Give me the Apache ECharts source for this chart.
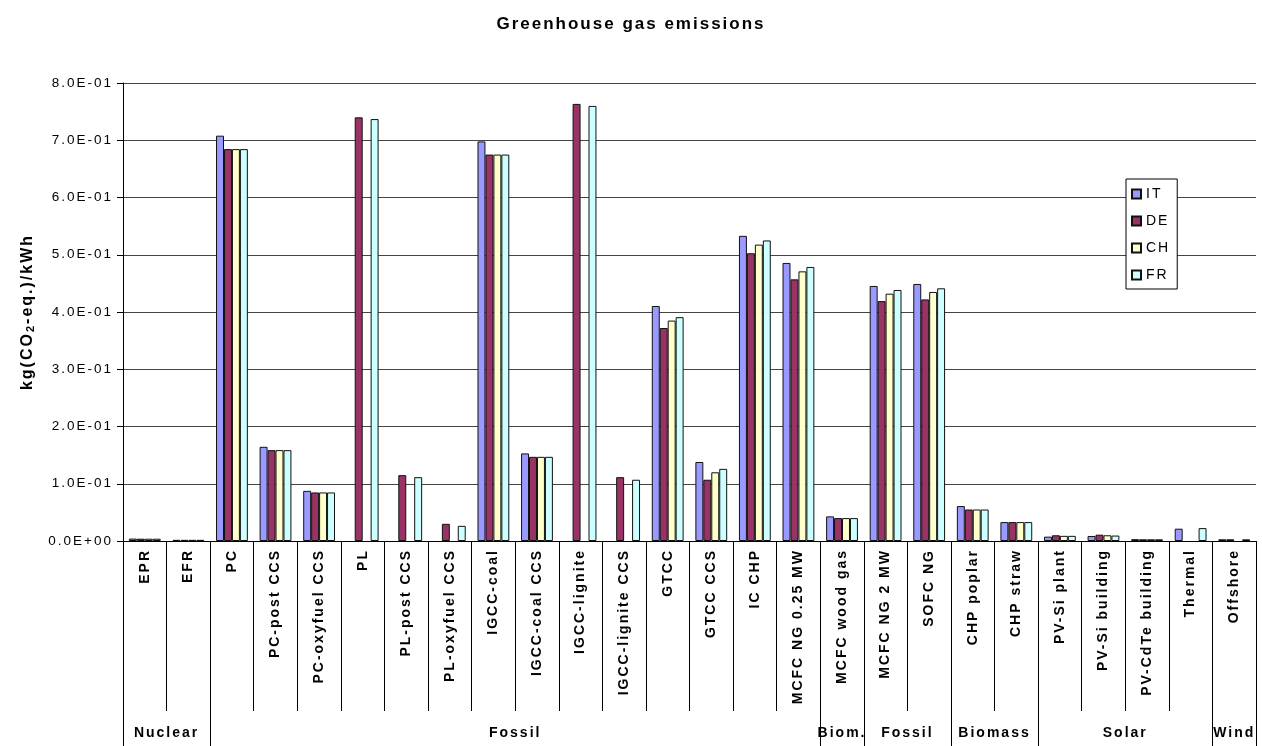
<!DOCTYPE html>
<html>
<head>
<meta charset="utf-8">
<title>Greenhouse gas emissions</title>
<script src="https://cdn.jsdelivr.net/npm/echarts@6/dist/echarts.min.js"></script>
<style>
  html, body { margin: 0; padding: 0; background: #fff; }
  #chart { width: 1262px; height: 746px; }
</style>
</head>
<body>
<div id="chart"></div>
<script>
// Technologies on the category axis
const categories = [
  'EPR', 'EFR', 'PC', 'PC-post CCS', 'PC-oxyfuel CCS', 'PL', 'PL-post CCS',
  'PL-oxyfuel CCS', 'IGCC-coal', 'IGCC-coal CCS', 'IGCC-lignite', 'IGCC-lignite CCS',
  'GTCC', 'GTCC CCS', 'IC CHP', 'MCFC NG 0.25 MW', 'MCFC wood gas', 'MCFC NG 2 MW',
  'SOFC NG', 'CHP poplar', 'CHP straw', 'PV-Si plant', 'PV-Si building',
  'PV-CdTe building', 'Thermal', 'Offshore'
];

// Source groups shown under the technology names (consecutive runs)
const groupNames = ['Nuclear', 'Fossil', 'Biom.', 'Fossil', 'Biomass', 'Solar', 'Wind'];
const groupSizes = [2, 14, 1, 2, 2, 4, 1];

// kg(CO2-eq.)/kWh per country
const seriesNames = ['IT', 'DE', 'CH', 'FR'];
const valuesIT = [0.0042, 0.002, 0.708, 0.1645, 0.0876, null, null, null, 0.698, 0.153, null, null,
  0.4105, 0.138, 0.533, 0.4857, 0.043, 0.4455, 0.449, 0.061, 0.033, 0.0076, 0.0088, 0.0032, 0.0215, 0.003];
const valuesDE = [0.004, 0.002, 0.6845, 0.1587, 0.0848, 0.740, 0.115, 0.030, 0.675, 0.147, 0.7635, 0.1115,
  0.372, 0.107, 0.5026, 0.457, 0.040, 0.419, 0.422, 0.055, 0.033, 0.010, 0.011, 0.003, null, 0.003];
const valuesCH = [0.004, 0.002, 0.6845, 0.1587, 0.0848, null, null, null, 0.675, 0.147, null, null,
  0.385, 0.120, 0.5177, 0.471, 0.040, 0.432, 0.435, 0.055, 0.033, 0.009, 0.010, 0.003, null, null];
const valuesFR = [0.004, 0.002, 0.6845, 0.1587, 0.0848, 0.737, 0.1115, 0.0265, 0.675, 0.147, 0.760, 0.107,
  0.391, 0.126, 0.525, 0.4787, 0.040, 0.4385, 0.4414, 0.055, 0.033, 0.009, 0.0095, 0.003, 0.0225, 0.003];

// Value axis tick labels, from 0 upwards in steps of 0.1
const yTickLabels = ['0.0E+00', '1.0E-01', '2.0E-01', '3.0E-01', '4.0E-01',
  '5.0E-01', '6.0E-01', '7.0E-01', '8.0E-01'];

// Slightly widened glyph spacing for every canvas text run
(function () {
  const P = CanvasRenderingContext2D.prototype;
  const fill = P.fillText, measure = P.measureText;
  const SPACING = '2px';
  P.fillText = function () { this.letterSpacing = SPACING; return fill.apply(this, arguments); };
  P.measureText = function () { this.letterSpacing = SPACING; return measure.apply(this, arguments); };
})();

const FONT = 'Arial';
const colors = ['#9999FF', '#993366', '#FFFFCC', '#CCFFFF'];
const allValues = [valuesIT, valuesDE, valuesCH, valuesFR];

const chart = echarts.init(document.getElementById('chart'), null, { renderer: 'canvas' });

const option = {
  animation: false,
  backgroundColor: '#fff',
  textStyle: { fontFamily: FONT, color: '#000' },
  title: {
    text: 'Greenhouse gas emissions',
    left: 'center',
    top: 10,
    textStyle: { fontFamily: FONT, fontSize: 17, fontWeight: 'bold', color: '#000' }
  },
  legend: {
    data: seriesNames,
    orient: 'vertical',
    left: 1126,
    top: 179,
    itemWidth: 9,
    itemHeight: 9,
    itemGap: 11,
    padding: [7, 7, 6, 5],
    backgroundColor: '#fff',
    borderColor: '#000',
    borderWidth: 1,
    borderRadius: 0,
    icon: 'rect',
    textStyle: { fontFamily: FONT, fontSize: 14, color: '#000', lineHeight: 15 }
  },
  grid: { left: 123, right: 6, top: 83, bottom: 205, containLabel: false },
  xAxis: {
    type: 'category',
    data: categories,
    axisLine: { show: true, lineStyle: { color: '#000', width: 1 } },
    axisTick: { show: true, interval: 0, length: 170, lineStyle: { color: '#000', width: 1 } },
    axisLabel: {
      interval: 0, rotate: 90, margin: 8,
      fontFamily: FONT, fontSize: 14, fontWeight: 'bold', color: '#000'
    },
    splitLine: { show: false }
  },
  yAxis: {
    type: 'value',
    min: 0, max: 0.8, interval: 0.1,
    name: '{a|kg(CO}{s|2}{a|-eq.)/kWh}',
    nameLocation: 'middle',
    nameGap: 84,
    nameRotate: 90,
    nameTextStyle: {
      rich: {
        a: { fontFamily: FONT, fontSize: 16, fontWeight: 'bold', color: '#000', lineHeight: 20 },
        s: { fontFamily: FONT, fontSize: 11, fontWeight: 'bold', color: '#000', lineHeight: 12, verticalAlign: 'bottom' }
      }
    },
    axisLine: { show: true, lineStyle: { color: '#000', width: 1 } },
    axisTick: { show: true, length: 6, lineStyle: { color: '#000' } },
    axisLabel: {
      margin: 10, fontFamily: FONT, fontSize: 13.5, color: '#000',
      formatter: function (v) { return yTickLabels[Math.round(v * 10)]; }
    },
    splitLine: { show: true, lineStyle: { color: '#444', width: 1.2 } }
  },
  series: seriesNames.map(function (name, k) {
    return {
      name: name,
      type: 'bar',
      data: allValues[k],
      barGap: '0%',
      barCategoryGap: '27%',
      itemStyle: { color: colors[k], borderColor: '#111', borderWidth: 1 },
      emphasis: { disabled: true }
    };
  })
};

chart.setOption(option);

// Group row under the technology names: separators and group captions
(function () {
  const c0 = chart.convertToPixel({ xAxisIndex: 0 }, 0);
  const c1 = chart.convertToPixel({ xAxisIndex: 0 }, 1);
  const band = c1 - c0;
  const left = c0 - band / 2;
  const baseY = chart.convertToPixel({ yAxisIndex: 0 }, 0);
  const rowTop = baseY + 170;
  const bottom = 746;
  const elements = [];
  // mask for name overflow below the tick row
  elements.push({
    type: 'rect', z: 100, silent: true,
    shape: { x: left - 2, y: rowTop + 1, width: band * categories.length + 6, height: bottom - rowTop },
    style: { fill: '#fff' }
  });
  let start = 0;
  const edges = [left];
  groupNames.forEach(function (g, i) {
    const end = start + groupSizes[i];
    const xs = left + start * band, xe = left + end * band;
    edges.push(xe);
    elements.push({
      type: 'text', z: 102, silent: true,
      style: {
        text: g, x: (xs + xe) / 2, y: 733,
        align: 'center', verticalAlign: 'middle',
        font: 'bold 14px ' + FONT, fill: '#000'
      }
    });
    start = end;
  });
  edges.forEach(function (x) {
    const xx = Math.round(x) + 0.5;
    elements.push({
      type: 'line', z: 101, silent: true,
      shape: { x1: xx, y1: baseY, x2: xx, y2: bottom },
      style: { stroke: '#000', lineWidth: 1 }
    });
  });
  chart.setOption({ graphic: { elements: elements } });
})();
</script>
</body>
</html>
